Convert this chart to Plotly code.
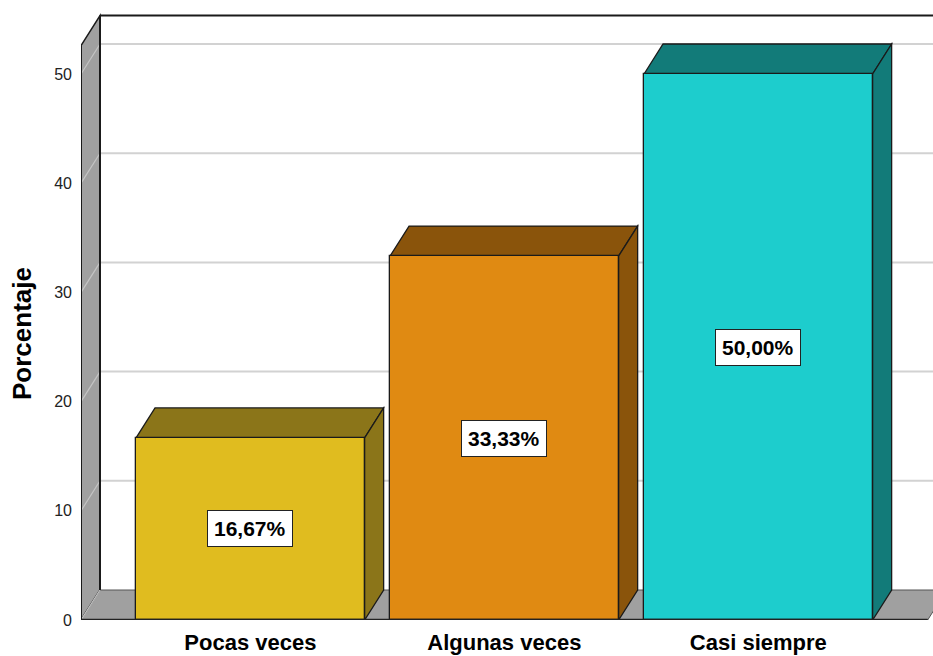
import plotly.graph_objects as go

# Data
categorias = ["Pocas veces", "Algunas veces", "Casi siempre"]
porcentajes = [16.67, 33.33, 50.00]
ticks_y = [0, 10, 20, 30, 40, 50]

# Styles
colores_frente = ["#E0BC1F", "#E08A12", "#1DCDCD"]
colores_sombra = ["#8B7519", "#8A540B", "#127B79"]
gris_pared = "#A0A0A0"
gris_rejilla = "#D2D2D2"
borde = "#1A1A1A"
fuente = "Liberation Sans, Arial, sans-serif"

# Canvas and plot-area geometry
W, H = 933, 656
ML, MB = 81, 36
px_por_cat = 254.0
px_por_pct = 10.92
x_izq = -0.6667
x_der = 2.6667
x_max = x_izq + (W - ML) / px_por_cat
y_max = (H - MB) / px_por_pct
# depth of the pseudo-3D effect, in axis units
dx = 19 / px_por_cat
dy = 30 / px_por_pct
y_tope = 52.6
ancho_barra = 0.9

xs = list(range(len(categorias)))


def poligono(puntos):
    return "M " + " L ".join(f"{x},{y}" for x, y in puntos) + " Z"


shapes = []
# back wall
shapes.append(dict(type="rect", xref="x", yref="y", layer="below",
                   x0=x_izq + dx, x1=x_max + 1, y0=dy, y1=y_tope + dy,
                   fillcolor="white", line=dict(width=0)))
# left wall
shapes.append(dict(type="path", xref="x", yref="y", layer="below",
                   path=poligono([(x_izq, 0), (x_izq, y_tope), (x_izq + dx, y_tope + dy), (x_izq + dx, dy)]),
                   fillcolor=gris_pared, line=dict(color=borde, width=1.5)))
# floor
shapes.append(dict(type="path", xref="x", yref="y", layer="below",
                   path=poligono([(x_izq, 0), (x_izq + dx, dy), (x_max + 1, dy), (x_max + 1, 0)]),
                   fillcolor=gris_pared, line=dict(color="#555555", width=1)))
shapes.append(dict(type="path", xref="x", yref="y", layer="below",
                   path=poligono([(x_der, 0), (x_der + dx, dy), (x_max + 1, dy), (x_max + 1, 0)]),
                   fillcolor="white", line=dict(width=0)))
shapes.append(dict(type="line", xref="x", yref="y", layer="below",
                   x0=x_der, y0=0, x1=x_der + dx, y1=dy, line=dict(color="#555555", width=1)))
# gridlines on back and left walls
for t in ticks_y:
    if t > 0:
        shapes.append(dict(type="line", xref="x", yref="y", layer="below",
                           x0=x_izq + dx, x1=x_max + 1, y0=t + dy, y1=t + dy,
                           line=dict(color=gris_rejilla, width=2)))
    shapes.append(dict(type="line", xref="x", yref="y", layer="below",
                       x0=x_izq, y0=t, x1=x_izq + dx, y1=t + dy,
                       line=dict(color="#C4C4C4", width=1.2)))
# wall edges
shapes.append(dict(type="line", xref="x", yref="y", layer="below",
                   x0=x_izq + dx, x1=x_max + 1, y0=y_tope + dy, y1=y_tope + dy,
                   line=dict(color=borde, width=2)))
shapes.append(dict(type="line", xref="x", yref="y", layer="below",
                   x0=x_izq + dx, x1=x_izq + dx, y0=dy, y1=y_tope + dy,
                   line=dict(color=borde, width=2)))
shapes.append(dict(type="line", xref="x", yref="y", layer="below",
                   x0=x_izq, x1=x_izq, y0=0, y1=y_tope,
                   line=dict(color=borde, width=2)))
# top and side faces of each bar
for x, v, c in zip(xs, porcentajes, colores_sombra):
    x0, x1 = x - ancho_barra / 2, x + ancho_barra / 2
    shapes.append(dict(type="path", xref="x", yref="y", layer="below",
                       path=poligono([(x0, v), (x0 + dx, v + dy), (x1 + dx, v + dy), (x1, v)]),
                       fillcolor=c, line=dict(color=borde, width=1.3)))
    shapes.append(dict(type="path", xref="x", yref="y", layer="below",
                       path=poligono([(x1, 0), (x1, v), (x1 + dx, v + dy), (x1 + dx, dy)]),
                       fillcolor=c, line=dict(color=borde, width=1.3)))
# front baseline
shapes.append(dict(type="line", xref="x", yref="y", layer="above",
                   x0=x_izq, x1=x_der, y0=0, y1=0,
                   line=dict(color="#222222", width=2.5)))

fig = go.Figure()
fig.add_trace(go.Bar(
    x=xs, y=porcentajes, width=ancho_barra,
    marker=dict(color=colores_frente, line=dict(color=borde, width=1.3)),
    hoverinfo="skip",
))

annotations = []
for x, v in zip(xs, porcentajes):
    annotations.append(dict(
        x=x, y=v / 2, xref="x", yref="y", showarrow=False,
        text=f"{v:.2f}%".replace(".", ","),
        font=dict(family=fuente, size=21, color="black", weight="bold"),
        bgcolor="white", bordercolor="#222222", borderwidth=1, borderpad=6,
    ))
# vertical axis title
annotations.append(dict(
    x=(22 - ML) / (W - ML), y=(H - MB - 334) / (H - MB), xref="paper", yref="paper",
    xanchor="center", yanchor="middle",
    showarrow=False, textangle=-90, text="Porcentaje",
    font=dict(family=fuente, size=26, color="black", weight="bold"),
))

fig.update_layout(
    width=W, height=H,
    margin=dict(l=ML, r=0, t=0, b=MB),
    paper_bgcolor="white", plot_bgcolor="white",
    showlegend=False,
    shapes=shapes,
    annotations=annotations,
    bargap=0,
    xaxis=dict(range=[x_izq, x_max], tickvals=xs, ticktext=categorias,
               showgrid=False, zeroline=False, showline=False, ticks="",
               ticklabelstandoff=7,
               tickfont=dict(family=fuente, size=22, color="black", weight="bold"),
               fixedrange=True),
    yaxis=dict(range=[0, y_max], tickvals=ticks_y, showgrid=False, zeroline=False,
               showline=False, ticks="", ticklabelstandoff=8,
               tickfont=dict(family=fuente, size=16, color="#222222"),
               fixedrange=True),
)

fig.write_html("out.html")
